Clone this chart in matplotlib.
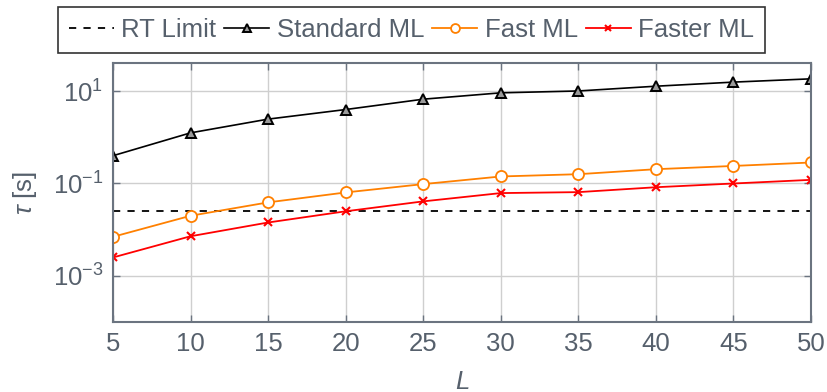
import matplotlib
matplotlib.use("Agg")
import matplotlib.pyplot as plt
from matplotlib.ticker import NullLocator, FixedLocator

# Data
L = [5, 10, 15, 20, 25, 30, 35, 40, 45, 50]
rt_limit = 0.025
standard_ml = [0.40, 1.25, 2.48, 4.0, 6.7, 9.2, 10.1, 12.8, 15.7, 18.5]
fast_ml = [0.0070, 0.020, 0.039, 0.064, 0.097, 0.142, 0.159, 0.204, 0.24, 0.285]
faster_ml = [0.0025, 0.0072, 0.0143, 0.025, 0.041, 0.062, 0.065, 0.083, 0.10, 0.12]
x_ticks = [5, 10, 15, 20, 25, 30, 35, 40, 45, 50]
y_ticks = [1e-3, 1e-1, 1e1]
y_ticklabels = [r"$10^{-3}$", r"$10^{-1}$", r"$10^{1}$"]

plt.rcParams["font.family"] = ["Liberation Sans", "DejaVu Sans"]
plt.rcParams["mathtext.fontset"] = "custom"
plt.rcParams["mathtext.rm"] = "Liberation Sans"
plt.rcParams["mathtext.it"] = "Liberation Sans:italic"
plt.rcParams["mathtext.default"] = "regular"

text_col = "#56606c"
axis_col = "#6b7480"
fs = 18.5

fig = plt.figure(figsize=(8.28, 3.92), dpi=100)
ax = fig.add_axes([113 / 828, 1 - 322 / 392, 698 / 828, 259 / 392])

ax.plot([L[0], L[-1]], [rt_limit, rt_limit], ls=(0, (4, 4)), color="black", lw=1.3,
        label="RT Limit")
ax.plot(L, standard_ml, color="black", lw=1.2, marker="^", ms=7, mfc="#9a9a9a",
        mec="black", mew=1.4, label="Standard ML")
ax.plot(L, fast_ml, color="#ff8000", lw=1.3, marker="o", ms=8, mfc="white",
        mec="#ff8000", mew=1.3, label="Fast ML")
ax.plot(L, faster_ml, color="#ff0000", lw=1.3, marker="x", ms=6, mec="#ff0000",
        mew=1.5, label="Faster ML")

ax.set_yscale("log")
ax.set_xlim(5, 50)
ax.set_ylim(1e-4, 10 ** 1.61)
ax.set_xticks(x_ticks)
ax.yaxis.set_major_locator(FixedLocator(y_ticks))
ax.yaxis.set_minor_locator(NullLocator())
ax.set_yticklabels(y_ticklabels)
ax.grid(True, color="#cfcfcf", lw=1.0)
ax.set_axisbelow(True)

ax.tick_params(axis="both", which="both", direction="in", length=5, width=1,
               color=axis_col, labelcolor=text_col, labelsize=fs, top=True, right=True, pad=7)
for s in ax.spines.values():
    s.set_color(axis_col)
    s.set_linewidth(1.5)

ax.set_xlabel(r"$\mathit{L}$", color=text_col, fontsize=fs, labelpad=10)
ax.set_ylabel(r"$\mathit{\tau}$ [s]", color=text_col, fontsize=fs, labelpad=10)

leg = fig.legend(loc="upper left", bbox_to_anchor=(58 / 828, 1 - 7 / 392), ncol=4,
                 frameon=True, fancybox=False, edgecolor="black", fontsize=fs,
                 handlelength=1.75, handletextpad=0.3, columnspacing=0.3,
                 borderpad=0.42, borderaxespad=0.0, markerscale=0.8)
leg.get_frame().set_linewidth(1.2)
for t in leg.get_texts():
    t.set_color(text_col)

fig.savefig("out.png", dpi=100)
